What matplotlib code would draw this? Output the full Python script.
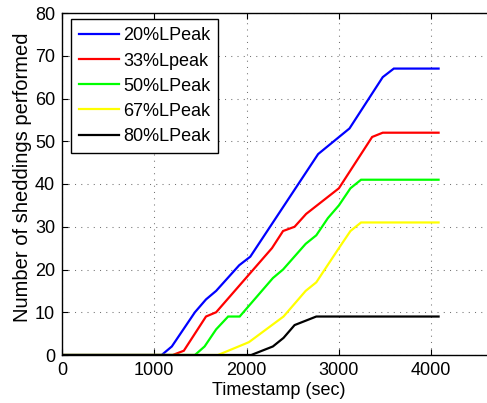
import numpy as np
import matplotlib
matplotlib.use('Agg')
import matplotlib.pyplot as plt

plt.rcParams['font.family'] = ['Liberation Sans', 'DejaVu Sans']
plt.rcParams['font.size'] = 13

# shedding counts over time for each load-peak threshold
t20 = [0, 1080, 1190, 1440, 1560, 1670, 1920, 2040, 2775, 3115, 3475, 3595, 4080]
n20 = [0, 0, 2, 10, 13, 15, 21, 23, 47, 53, 65, 67, 67]

t33 = [0, 1200, 1320, 1560, 1670, 2275, 2395, 2520, 2645, 3000, 3360, 3475, 4080]
n33 = [0, 0, 1, 9, 10, 25, 29, 30, 33, 39, 51, 52, 52]

t50 = [0, 1440, 1545, 1670, 1800, 1925, 2285, 2395, 2640, 2755, 2880, 3000, 3125, 3240, 4080]
n50 = [0, 0, 2, 6, 9, 9, 18, 20, 26, 28, 32, 35, 39, 41, 41]

t67 = [0, 1690, 2025, 2400, 2640, 2755, 3000, 3125, 3240, 4080]
n67 = [0, 0, 3, 9, 15, 17, 25, 29, 31, 31]

t80 = [0, 2050, 2285, 2400, 2520, 2755, 4080]
n80 = [0, 0, 2, 4, 7, 9, 9]

series = [
    (t20, n20, 'b', '20%LPeak'),
    (t33, n33, 'r', '33%Lpeak'),
    (t50, n50, '#00ff00', '50%LPeak'),
    (t67, n67, '#ffff00', '67%LPeak'),
    (t80, n80, 'k', '80%LPeak'),
]

fig = plt.figure(figsize=(4.87, 4.03), dpi=100)
W, H = 487.0, 403.0
# axes runs past the right edge, so the 5000 end falls outside the saved image
ax = fig.add_axes([62 / W, (H - 355) / H, (523.5 - 62) / W, (355 - 13) / H])

for t, n, c, lab in series:
    ax.plot(t, n, color=c, lw=1.6, label=lab, solid_joinstyle='miter')

ax.set_xlim(0, 5000)
ax.set_ylim(0, 80)
ax.set_xticks(np.arange(0, 4001, 1000))
ax.set_yticks(np.arange(0, 81, 10))
ax.grid(True, color='0.45', linestyle=(0, (1, 5)), lw=0.75)
ax.tick_params(direction='in', length=4, width=0.8, top=True, right=True, pad=5)
for s in ax.spines.values():
    s.set_linewidth(1.0)

ax.set_xlabel('Timestamp (sec)')
ax.set_ylabel('Number of sheddings performed', fontsize=14.5)
ax.xaxis.set_label_coords((279 - 62) / 461.5, -0.078)
ax.yaxis.set_label_coords(-0.066, 0.52)

leg = ax.legend(loc='upper left', bbox_to_anchor=(70.7 / W, 1 - 19.3 / H),
                bbox_transform=fig.transFigure, borderaxespad=0,
                fancybox=False, edgecolor='k', framealpha=1,
                handlelength=2.2, handletextpad=0.25, labelspacing=0.45,
                borderpad=0.45, fontsize=13)
leg.get_frame().set_linewidth(1.0)

fig.savefig('out.png', dpi=100)
